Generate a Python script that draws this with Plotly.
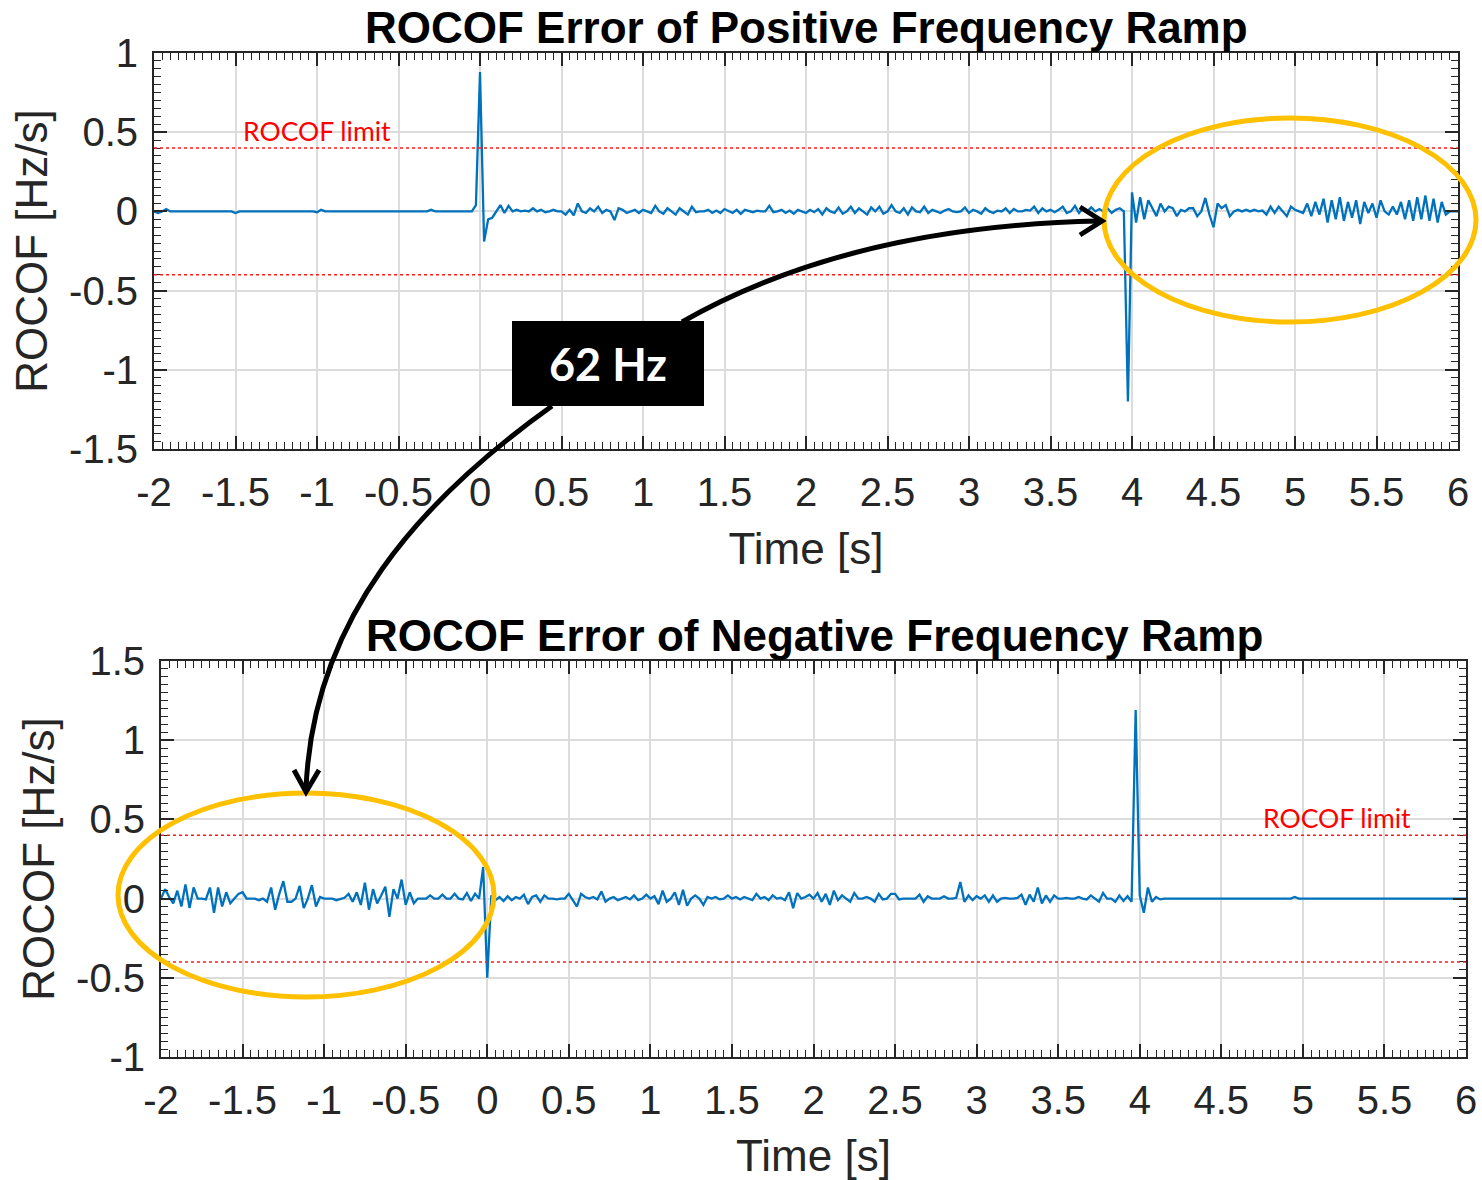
import plotly.graph_objects as go

# ---------------------------------------------------------------- data
# ROCOF error samples, reported every 25 ms from -2 s to 6 s
T_START = -2.0
T_STEP = 0.025

rocof_positive = [
    0.0, -0.01, 0.0, 0.015, 0.0, 0.0, 0.0, 0.0, 0.0, 0.0, 0.0, 0.0, 0.0, 0.0, 0.0, 0.0, 0.0, 0.0, 0.0, 0.0,
    -0.01, 0.0, 0.0, 0.0, 0.0, 0.0, 0.0, 0.0, 0.0, 0.0, 0.0, 0.0, 0.0, 0.0, 0.0, 0.0, 0.0, 0.0, 0.0, 0.0,
    -0.005, 0.01, 0.0, 0.0, 0.0, 0.0, 0.0, 0.0, 0.0, 0.0, 0.0, 0.0, 0.0, 0.0, 0.0, 0.0, 0.0, 0.0, 0.0, 0.0,
    0.0, 0.0, 0.0, 0.0, 0.0, 0.0, 0.0, 0.0, 0.01, 0.0, 0.0, 0.0, 0.0, 0.0, 0.0, 0.0, 0.0, 0.0, 0.0, 0.04,
    0.88, -0.19, -0.05, -0.04, 0.0, 0.04, -0.01, 0.035, 0.0, 0.01, 0.0, 0.005, 0.0, 0.02, 0.0, 0.01, -0.005, 0.0, 0.01, 0.0,
    0.0, -0.02, 0.01, -0.025, 0.05, 0.0, -0.01, 0.02, 0.0, 0.03, -0.01, 0.01, 0.0, -0.055, 0.02, 0.01, -0.01, 0.0, 0.01, -0.01,
    0.01, 0.0, -0.01, 0.035, 0.0, -0.015, 0.02, 0.0, -0.02, 0.02, 0.0, -0.02, 0.03, -0.005, 0.0, 0.0, 0.01, -0.01, 0.005, -0.01,
    0.015, 0.0, -0.01, 0.01, -0.015, 0.01, 0.0, -0.005, 0.005, 0.0, 0.0, 0.035, -0.005, 0.0, 0.01, -0.01, 0.005, -0.015, 0.01, 0.0,
    -0.01, 0.01, -0.005, 0.015, -0.02, 0.02, 0.0, -0.01, 0.025, -0.015, 0.0, 0.03, -0.01, 0.02, 0.0, -0.02, 0.025, 0.0, 0.03, -0.015,
    0.0, 0.04, 0.0, -0.01, 0.02, -0.02, 0.025, 0.0, -0.005, 0.03, -0.01, 0.01, 0.0, -0.01, 0.005, 0.015, 0.0, -0.005, 0.0, 0.025,
    -0.01, 0.01, 0.0, -0.015, 0.02, 0.0, -0.01, 0.005, 0.0, 0.02, -0.01, 0.015, 0.0, 0.0, 0.01, 0.005, 0.03, -0.01, 0.02, 0.0,
    0.01, -0.005, 0.01, 0.03, -0.01, 0.0, 0.035, -0.01, 0.02, 0.0, 0.025, 0.0, 0.015, 0.0, 0.02, -0.01, 0.01, 0.02, 0.0, -1.2,
    0.12, -0.07, 0.09, -0.05, 0.07, 0.02, -0.03, 0.05, 0.0, 0.03, 0.02, -0.03, 0.01, 0.0, 0.02, 0.02, -0.03, 0.0, 0.085, -0.02,
    -0.1, 0.05, 0.02, 0.04, -0.03, 0.0, 0.01, 0.0, 0.01, 0.0, 0.01, 0.0, 0.005, -0.02, 0.03, -0.01, 0.03, 0.0, -0.03, 0.03,
    0.01, 0.0, -0.01, 0.05, -0.03, 0.06, -0.02, 0.08, -0.07, 0.07, -0.05, 0.09, -0.06, 0.06, -0.04, 0.07, -0.08, 0.06, -0.01, 0.05,
    -0.04, 0.07, 0.0, -0.02, 0.03, -0.02, 0.06, -0.05, 0.07, -0.06, 0.09, -0.05, 0.1, -0.06, 0.08, -0.07, 0.06, -0.02, 0.0, 0.0,
    0.0,
]

rocof_negative = [
    0.0, 0.06, 0.01, -0.03, 0.05, -0.05, 0.09, -0.06, 0.07, 0.0, 0.0, -0.005, 0.07, -0.09, 0.07, -0.05, 0.04, -0.03, 0.0, 0.03,
    0.04, 0.0, 0.0, 0.0, -0.01, 0.0, -0.02, 0.07, -0.07, 0.03, 0.11, -0.02, -0.02, 0.0, 0.08, -0.06, 0.0, 0.085, -0.05, 0.01,
    0.0, 0.0, 0.0, -0.01, 0.0, 0.005, 0.03, -0.02, 0.04, -0.04, 0.1, -0.07, 0.06, -0.03, 0.02, 0.075, -0.115, 0.06, 0.0, 0.12,
    -0.04, 0.04, -0.03, 0.0, 0.0, 0.0, 0.02, 0.0, 0.0, 0.025, 0.0, 0.0, 0.03, 0.0, -0.005, 0.035, -0.015, 0.03, 0.0, 0.2,
    -0.5, 0.02, -0.01, 0.01, -0.015, 0.015, -0.01, 0.01, 0.0, 0.025, -0.035, 0.01, 0.02, -0.02, 0.02, 0.0, 0.0, -0.005, 0.0, 0.0,
    0.03, -0.01, -0.05, 0.03, 0.01, 0.0, 0.01, -0.005, 0.045, -0.02, 0.0, 0.01, -0.01, 0.0, 0.01, -0.005, 0.02, -0.01, 0.0, 0.025,
    0.0, 0.015, -0.035, 0.05, -0.02, 0.0, 0.04, -0.04, 0.055, -0.045, 0.0, 0.02, 0.0, -0.04, 0.01, 0.0, 0.01, -0.005, 0.0, 0.02,
    0.0, 0.01, -0.005, 0.01, 0.0, -0.01, 0.03, 0.0, 0.01, -0.01, 0.02, 0.0, 0.005, -0.01, 0.04, -0.06, 0.035, 0.0, 0.01, 0.025,
    0.0, 0.035, -0.02, 0.03, -0.04, 0.05, -0.01, 0.02, 0.0, -0.02, 0.035, 0.0, 0.0, 0.01, 0.0, -0.02, 0.03, -0.005, 0.0, 0.03,
    0.03, -0.005, 0.0, 0.0, 0.0, 0.0, 0.025, -0.02, 0.015, 0.0, 0.0, 0.0, 0.015, 0.0, 0.0, 0.005, 0.105, -0.02, 0.02, -0.01,
    0.015, 0.0, 0.02, -0.02, 0.02, -0.02, 0.0, 0.005, 0.0, 0.0, 0.005, 0.025, -0.04, 0.025, -0.02, 0.07, -0.03, 0.02, -0.02, 0.02,
    0.0, 0.0, 0.005, 0.0, 0.0, 0.01, 0.0, -0.005, 0.02, 0.0, -0.02, 0.035, 0.0, 0.0, -0.02, 0.02, -0.015, 0.015, -0.02, 1.19,
    0.02, -0.09, 0.07, -0.02, 0.01, -0.005, 0.0, 0.0, 0.0, 0.0, 0.0, 0.0, 0.0, 0.0, 0.0, 0.0, 0.0, 0.0, 0.0, 0.0,
    0.0, 0.0, 0.0, 0.0, 0.0, 0.0, 0.0, 0.0, 0.0, 0.0, 0.0, 0.0, 0.0, 0.0, 0.0, 0.0, 0.0, 0.0, 0.01, 0.0,
    0.0, 0.0, 0.0, 0.0, 0.0, 0.0, 0.0, 0.0, 0.0, 0.0, 0.0, 0.0, 0.0, 0.0, 0.0, 0.0, 0.0, 0.0, 0.0, 0.0,
    0.0, 0.0, 0.0, 0.0, 0.0, 0.0, 0.0, 0.0, 0.0, 0.0, 0.0, 0.0, 0.0, 0.0, 0.0, 0.0, 0.0, 0.0, 0.0, 0.0,
    0.0,
]

time_pos = [T_START + i * T_STEP for i in range(len(rocof_positive))]
time_neg = [T_START + i * T_STEP for i in range(len(rocof_negative))]

ROCOF_LIMIT = 0.4

x_ticks = [-2, -1.5, -1, -0.5, 0, 0.5, 1, 1.5, 2, 2.5, 3, 3.5, 4, 4.5, 5, 5.5, 6]
x_tick_text = ["-2", "-1.5", "-1", "-0.5", "0", "0.5", "1", "1.5", "2", "2.5",
               "3", "3.5", "4", "4.5", "5", "5.5", "6"]
y1_ticks = [-1.5, -1, -0.5, 0, 0.5, 1]
y1_tick_text = ["-1.5", "-1", "-0.5", "0", "0.5", "1"]
y2_ticks = [-1, -0.5, 0, 0.5, 1, 1.5]
y2_tick_text = ["-1", "-0.5", "0", "0.5", "1", "1.5"]

title_top = "ROCOF Error of Positive Frequency Ramp"
title_bottom = "ROCOF Error of Negative Frequency Ramp"
x_title = "Time [s]"
y_title = "ROCOF [Hz/s]"
limit_label = "ROCOF limit"
step_label = "62 Hz"

# ---------------------------------------------------------------- styling
W, H = 1482, 1180
AX_COLOR = "#262626"
GRID = "#dcdcdc"
LINE_BLUE = "#0072BD"
GOLD = "#FFC000"
FONT = "Liberation Sans"
CAL = "Lato"


def px(x):
    return x / W


def py(y):
    return 1 - y / H


def axis_style(tickvals, ticktext, rng, domain, anchor, minor_step):
    return dict(
        range=rng, domain=domain, anchor=anchor, automargin=False,
        tickmode="array", tickvals=tickvals, ticktext=ticktext,
        ticks="inside", ticklen=13, tickwidth=1.6, tickcolor=AX_COLOR,
        showline=True, linecolor=AX_COLOR, linewidth=2, mirror="allticks",
        showgrid=True, gridcolor=GRID, gridwidth=1.5,
        zeroline=False,
        tickfont=dict(family=FONT, size=40, color=AX_COLOR),
        minor=dict(ticks="inside", ticklen=7, tickwidth=1.4, tickcolor=AX_COLOR,
                   dtick=minor_step, showgrid=False),
    )


fig = go.Figure()
fig.add_trace(go.Scatter(x=time_pos, y=rocof_positive, mode="lines",
                         line=dict(color=LINE_BLUE, width=2.3), xaxis="x", yaxis="y",
                         showlegend=False))
fig.add_trace(go.Scatter(x=time_neg, y=rocof_negative, mode="lines",
                         line=dict(color=LINE_BLUE, width=2.3), xaxis="x2", yaxis="y2",
                         showlegend=False))

xa1 = axis_style(x_ticks, x_tick_text, [-2, 6], [px(154), px(1458)], "y", 0.05)
ya1 = axis_style(y1_ticks, y1_tick_text, [-1.5, 1], [py(449), py(53)], "x", 0.05)
xa2 = axis_style(x_ticks, x_tick_text, [-2, 6], [px(161), px(1466)], "y2", 0.05)
ya2 = axis_style(y2_ticks, y2_tick_text, [-1, 1.5], [py(1057), py(661)], "x2", 0.05)

for xa in (xa1, xa2):
    xa["ticklabelstandoff"] = 7
    xa["title"] = dict(text=x_title, font=dict(family=FONT, size=44, color=AX_COLOR), standoff=20)
for ya in (ya1, ya2):
    ya["ticklabelstandoff"] = 6
    ya["title"] = dict(text=y_title, font=dict(family=FONT, size=44, color=AX_COLOR), standoff=8)

shapes = []
# ROCOF limit lines
for xr, yr in (("x", "y"), ("x2", "y2")):
    for lvl in (ROCOF_LIMIT, -ROCOF_LIMIT):
        shapes.append(dict(type="line", xref=xr, yref=yr, x0=-2, x1=6, y0=lvl, y1=lvl,
                           line=dict(color="#ff1a1a", width=1.6, dash="dot"), layer="above"))

# highlight ellipses
shapes.append(dict(type="circle", xref="paper", yref="paper",
                   x0=px(1104), x1=px(1476), y0=py(322), y1=py(118),
                   line=dict(color=GOLD, width=5), layer="above"))
shapes.append(dict(type="circle", xref="paper", yref="paper",
                   x0=px(118), x1=px(494), y0=py(997), y1=py(793),
                   line=dict(color=GOLD, width=5), layer="above"))


def path(points, cmds):
    parts = []
    for cmd, pts in zip(cmds, points):
        coords = " ".join(f"{px(x):.5f},{py(y):.5f}" for x, y in pts)
        parts.append(f"{cmd} {coords}")
    return " ".join(parts)


# curved arrows from the label box to the two highlighted regions
arrow_style = dict(type="path", xref="paper", yref="paper",
                   line=dict(color="black", width=5), layer="above")
shapes.append(dict(path=path([[(682, 322)], [(850, 226), (1100, 221)]], ["M", "Q"]), **arrow_style))
shapes.append(dict(path=path([[(1080, 207)], [(1102, 221)], [(1080, 235)]], ["M", "L", "L"]), **arrow_style))
shapes.append(dict(path=path([[(552, 406)], [(420, 500), (312, 620), (306, 790)]], ["M", "C"]), **arrow_style))
shapes.append(dict(path=path([[(294, 770)], [(306, 792)], [(319, 770)]], ["M", "L", "L"]), **arrow_style))

# label box
shapes.append(dict(type="rect", xref="paper", yref="paper",
                   x0=px(512), x1=px(704), y0=py(406), y1=py(321),
                   fillcolor="black", line=dict(width=0), layer="above"))

annotations = [
    dict(text=f"<b>{title_top}</b>", x=px(806), y=py(27), xref="paper", yref="paper",
         showarrow=False, font=dict(family=FONT, size=44, color="black"),
         xanchor="center", yanchor="middle"),
    dict(text=f"<b>{title_bottom}</b>", x=px(814), y=py(635), xref="paper", yref="paper",
         showarrow=False, font=dict(family=FONT, size=44, color="black"),
         xanchor="center", yanchor="middle"),
    dict(text=limit_label, x=-1.0, y=0.51, xref="x", yref="y", showarrow=False,
         font=dict(family=CAL, size=26.5, color="#ff0000"), xanchor="center", yanchor="middle"),
    dict(text=limit_label, x=5.21, y=0.51, xref="x2", yref="y2", showarrow=False,
         font=dict(family=CAL, size=26.5, color="#ff0000"), xanchor="center", yanchor="middle"),
    dict(text=f"<b>{step_label}</b>", x=px(608), y=py(364), xref="paper", yref="paper",
         showarrow=False, font=dict(family=CAL, size=45, color="white"),
         xanchor="center", yanchor="middle"),
]

fig.update_layout(
    width=W, height=H,
    margin=dict(l=0, r=0, t=0, b=0),
    paper_bgcolor="white", plot_bgcolor="white",
    xaxis=xa1, yaxis=ya1, xaxis2=xa2, yaxis2=ya2,
    shapes=shapes, annotations=annotations,
    showlegend=False,
)

fig.write_html("out.html")
